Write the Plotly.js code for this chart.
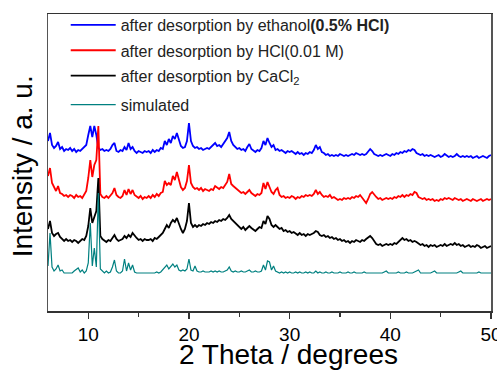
<!DOCTYPE html>
<html>
<head>
<meta charset="utf-8">
<script src="https://cdn.plot.ly/plotly-3.0.1.min.js"></script>
<style>html,body{margin:0;padding:0;background:#fff;}#chart{width:497px;height:370px;}</style>
</head>
<body>
<div id="chart"></div>
<script>
// 2θ positions (degrees)
const twoTheta = [
 6.0,6.2,6.4,6.6,6.8,7.0,7.2,7.4,7.6,7.8, 8.0,8.2,8.4,8.6,8.8,9.0,9.2,9.4,9.6,9.8,
 10.0,10.2,10.4,10.6,10.8,11.0,11.2,11.4,11.6,11.8, 12.0,12.2,12.4,12.6,12.8,13.0,13.2,13.4,13.6,13.8,
 14.0,14.2,14.4,14.6,14.8,15.0,15.2,15.4,15.6,15.8, 16.0,16.2,16.4,16.6,16.8,17.0,17.2,17.4,17.6,17.8,
 18.0,18.2,18.4,18.6,18.8,19.0,19.2,19.4,19.6,19.8, 20.0,20.2,20.4,20.6,20.8,21.0,21.2,21.4,21.6,21.8,
 22.0,22.2,22.4,22.6,22.8,23.0,23.2,23.4,23.6,23.8, 24.0,24.2,24.4,24.6,24.8,25.0,25.2,25.4,25.6,25.8,
 26.0,26.2,26.4,26.6,26.8,27.0,27.2,27.4,27.6,27.8, 28.0,28.2,28.4,28.6,28.8,29.0,29.2,29.4,29.6,29.8,
 30.0,30.2,30.4,30.6,30.8,31.0,31.2,31.4,31.6,31.8, 32.0,32.2,32.4,32.6,32.8,33.0,33.2,33.4,33.6,33.8,
 34.0,34.2,34.4,34.6,34.8,35.0,35.2,35.4,35.6,35.8, 36.0,36.2,36.4,36.6,36.8,37.0,37.2,37.4,37.6,37.8,
 38.0,38.2,38.4,38.6,38.8,39.0,39.2,39.4,39.6,39.8, 40.0,40.2,40.4,40.6,40.8,41.0,41.2,41.4,41.6,41.8,
 42.0,42.2,42.4,42.6,42.8,43.0,43.2,43.4,43.6,43.8, 44.0,44.2,44.4,44.6,44.8,45.0,45.2,45.4,45.6,45.8,
 46.0,46.2,46.4,46.6,46.8,47.0,47.2,47.4,47.6,47.8, 48.0,48.2,48.4,48.6,48.8,49.0,49.2,49.4,49.6,49.8,
 50.0
];

// after desorption by ethanol (0.5% HCl) — offset pattern, arbitrary units
const ethanolHCl = [
 170,178,166,163,165,169,162,164,160,162, 161,163,160,162,159,161,160,162,163,166,
 176,185,174,185,176,163,161,162,160,161, 160,162,166,168,160,159,161,160,164,161,
 168,162,164,160,158,160,159,158,160,159, 160,158,161,159,161,160,163,162,170,166,
 172,168,175,172,178,171,165,163,164,170, 188,170,165,163,164,162,163,161,162,163,
 162,164,166,168,165,166,164,167,170,173, 179,170,166,164,162,163,161,162,160,164,
 167,162,160,159,161,160,163,170,166,173, 168,164,166,161,162,160,161,159,158,160,
 159,160,158,157,159,157,158,156,158,157, 159,158,161,166,162,164,159,158,156,157,
 155,156,155,156,155,157,156,155,156,155, 156,157,156,158,157,156,157,156,157,159,
 162,160,157,156,155,156,155,156,157,156, 155,157,156,158,157,159,158,160,159,161,
 160,162,161,158,157,156,157,155,156,155, 156,155,154,155,156,154,155,157,155,154,
 155,154,155,157,155,154,155,154,155,154, 155,153,154,155,153,154,155,154,153,155,
 156
];

// after desorption by HCl (0.01 M)
const hcl001M = [
 135,143,128,124,120,125,118,117,115,116, 114,116,115,113,116,114,115,113,116,120,
 133,151,134,146,151,185,117,114,113,115, 113,115,118,123,116,114,113,115,121,116,
 122,117,121,116,114,113,115,112,114,113, 115,113,116,114,117,115,118,119,130,126,
 128,126,135,131,139,130,124,121,123,130, 146,128,124,122,123,121,123,120,122,121,
 120,122,121,125,123,122,124,123,126,129, 137,127,125,123,121,120,118,119,117,119,
 121,118,116,115,117,116,118,128,122,129, 124,119,117,121,123,116,114,115,113,114,
 113,115,114,112,114,113,115,114,116,115, 116,115,117,121,117,119,116,114,115,114,
 116,113,114,112,111,112,111,113,112,113, 112,114,113,115,114,116,113,110,108,112,
 117,119,116,114,112,113,111,112,113,112, 113,112,114,113,115,114,116,114,116,115,
 117,116,119,118,114,113,112,113,111,112, 111,112,110,111,110,112,111,113,112,113,
 112,111,113,112,111,112,110,111,112,111, 110,112,111,110,111,112,110,111,112,111,
 112
];

// after desorption by CaCl2
const cacl2 = [
 82,90,78,75,77,78,74,72,70,72, 70,71,69,71,70,68,70,72,71,75,
 85,103,88,95,100,133,75,72,70,69, 71,70,73,76,72,70,71,72,75,73,
 76,74,78,75,73,71,72,70,72,71, 71,72,70,73,72,74,76,78,82,86,
 83,88,91,89,93,87,82,78,82,90, 108,88,84,86,84,86,85,87,86,88,
 87,89,88,90,89,91,90,92,91,93, 96,92,90,88,85,83,82,84,81,83,
 85,83,81,80,82,84,83,90,87,95, 92,86,84,86,84,82,83,80,81,79,
 80,78,79,77,76,78,76,77,75,77, 76,77,78,80,79,76,75,76,74,75,
 73,74,72,73,71,72,70,71,69,70, 68,70,69,71,70,69,71,70,72,74,
 75,73,70,67,66,67,65,66,67,66, 67,66,68,67,69,70,73,71,72,70,
 71,69,70,69,67,66,67,65,66,64, 66,65,66,64,65,66,65,67,65,66,
 67,66,68,66,67,65,66,64,65,66, 64,65,64,66,65,63,64,65,63,64,
 65
];

// simulated pattern
const simulated = [
 45,78,44,40,42,46,40,41,38,38, 38,38,38,40,42,43,39,41,38,40,
 48,88,45,63,44,118,42,40,38,40, 38,39,44,51,40,38,38,40,52,40,
 48,41,46,39,38,38,38,38,38,38, 38,38,38,38,39,38,39,41,43,46,
 42,45,47,44,46,41,40,41,40,42, 52,41,40,45,40,39,39,40,39,39,
 39,40,39,40,39,40,39,39,40,41, 44,40,39,40,39,39,40,39,39,40,
 41,39,39,40,39,39,40,46,41,50, 49,41,45,40,39,38,39,38,39,38,
 39,38,38,39,38,39,38,38,39,38, 39,38,38,40,38,39,38,38,39,38,
 38,39,38,38,38,39,38,38,38,39, 38,38,39,38,38,38,38,39,38,38,
 38,38,38,38,38,38,38,39,40,38, 38,38,38,38,39,38,38,38,39,38,
 38,38,39,40,41,38,38,38,38,38, 38,39,40,38,38,38,38,38,38,38,
 38,38,38,38,39,40,38,38,38,38, 38,38,38,38,39,38,38,38,38,38,
 38
];

const seriesNames = [
  'after desorption by ethanol<b>(0.5% HCl)</b>',
  'after desorption by HCl(0.01 M)',
  'after desorption by CaCl<sub>2</sub>',
  'simulated'
];
const xTicks = [10, 20, 30, 40, 50];
const xMinorTicks = [15, 25, 35, 45];

const FONT = 'Arial, "Liberation Sans", sans-serif';

const traces = [
  {x: twoTheta, y: ethanolHCl, name: seriesNames[0], legendgroup: 'a', legend: 'legend',
   type: 'scatter', mode: 'lines', line: {color: '#0000ff', width: 1.8}},
  {x: twoTheta, y: hcl001M, name: seriesNames[1], legendgroup: 'b', legend: 'legend',
   type: 'scatter', mode: 'lines', line: {color: '#ff0000', width: 1.8}},
  {x: twoTheta, y: cacl2, name: seriesNames[2], legendgroup: 'c', legend: 'legend',
   type: 'scatter', mode: 'lines', line: {color: '#000000', width: 1.8}},
  {x: twoTheta, y: simulated, name: seriesNames[3], legendgroup: 'd', legend: 'legend2',
   type: 'scatter', mode: 'lines', line: {color: '#008080', width: 1.2}}
];

const layout = {
  width: 497, height: 370,
  margin: {l: 48, r: 6, t: 14, b: 59},
  paper_bgcolor: '#ffffff', plot_bgcolor: '#ffffff',
  font: {family: FONT, color: '#000'},
  showlegend: true,
  legend: {x: 0.04, y: 1.02, xanchor: 'left', yanchor: 'top', bgcolor: 'rgba(0,0,0,0)',
           font: {size: 16, family: FONT, color: '#222'}, itemwidth: 45,
           traceorder: 'grouped', tracegroupgap: 1.5},
  legend2: {x: 0.04, y: 0.752, xanchor: 'left', yanchor: 'top', bgcolor: 'rgba(0,0,0,0)',
           font: {size: 16, family: FONT, color: '#222'}, itemwidth: 45},
  xaxis: {range: [6, 50], tickvals: xTicks, ticktext: xTicks.map(String),
          ticks: 'outside', ticklen: 6, tickwidth: 1.5, tickcolor: '#333',
          showline: true, linecolor: '#333', linewidth: 1.5, mirror: true,
          showgrid: false, zeroline: false, ticklabeloverflow: 'allow',
          tickfont: {size: 19, family: FONT, color: '#000'},
          minor: {tickvals: xMinorTicks, ticks: 'outside', ticklen: 4, tickwidth: 1.2, tickcolor: '#333'}},
  yaxis: {range: [0, 297], showticklabels: false, ticks: '',
          showline: true, linecolor: '#555', linewidth: 1.5, mirror: true,
          showgrid: false, zeroline: false},
  annotations: [
    {text: '2 Theta / degrees', xref: 'paper', yref: 'paper', x: 0.542, y: -0.148,
     xanchor: 'center', yanchor: 'middle', showarrow: false,
     font: {size: 28, family: FONT, color: '#000'}},
    {text: 'Intensity / a. u.', xref: 'paper', yref: 'paper', x: -0.058, y: 0.488,
     xanchor: 'center', yanchor: 'middle', showarrow: false, textangle: -90,
     font: {size: 28, family: FONT, color: '#000'}}
  ]
};

Plotly.newPlot('chart', traces, layout, {displayModeBar: false, staticPlot: true});
</script>
</body>
</html>
